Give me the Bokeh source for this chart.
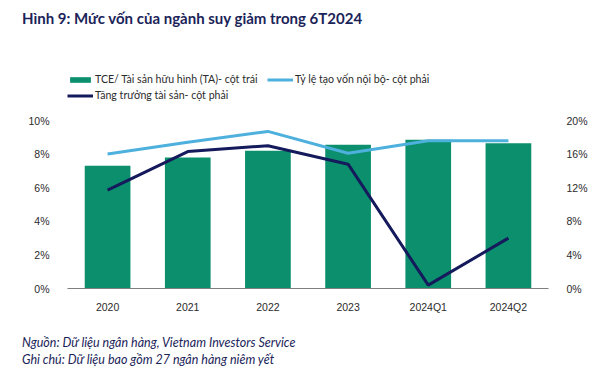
from bokeh.plotting import figure
from bokeh.layouts import column
from bokeh.models import (ColumnDataSource, Range1d, LinearAxis, FixedTicker,
                          PrintfTickFormatter, Legend, LegendItem, Div)
from bokeh.embed import file_html
from bokeh.resources import INLINE

categories = ["2020", "2021", "2022", "2023", "2024Q1", "2024Q2"]
tce_ta = [7.3, 7.8, 8.2, 8.55, 8.85, 8.65]               # left axis, %
internal_capital = [16.0, 17.4, 18.7, 16.1, 17.6, 17.6]  # right axis, %
asset_growth = [11.7, 16.3, 17.0, 14.8, 0.4, 6.0]        # right axis, %
left_ticks = [0, 2, 4, 6, 8, 10]
right_ticks = [0, 4, 8, 12, 16, 20]

FONT = "Lato"
TICKFONT = "Liberation Sans"
GREEN = "#0B8F6C"
LIGHT = "#4DB0DD"
NAVY = "#141A5C"
TEXTC = "#2b2b2b"
TITLEC = "#1B2459"
W = 607

# ---------- title ----------
title = Div(text="Hình 9: Mức vốn của ngành suy giảm trong 6T2024", width=W, height=40, margin=0,
            styles={"font-family": "Lato", "font-weight": "bold", "font-size": "15px",
                    "color": TITLEC, "line-height": "20px", "padding-left": "22px",
                    "padding-top": "8px", "box-sizing": "border-box", "white-space": "nowrap"})

# ---------- main chart (frame extends up to hold the legend) ----------
frame_h = 226      # px of plot frame
axis_h = 168       # px spanned by 0..10 on the left axis
top_left = 10 * frame_h / axis_h
top_right = 20 * frame_h / axis_h

src = ColumnDataSource(dict(cat=categories, tce=tce_ta, icg=internal_capital, ag=asset_growth))

p = figure(x_range=categories, y_range=Range1d(0, top_left), width=W, height=278,
           output_backend="svg", toolbar_location=None,
           min_border_left=67, min_border_right=59, min_border_top=22, min_border_bottom=30)
p.extra_y_ranges = {"right": Range1d(0, top_right)}
p.outline_line_color = None
p.xgrid.grid_line_color = None
p.ygrid.grid_line_color = None

bars = p.vbar(x="cat", top="tce", width=0.57, source=src, fill_color=GREEN, line_color=None)
l1 = p.line(x="cat", y="icg", source=src, y_range_name="right", line_color=LIGHT, line_width=3)
l2 = p.line(x="cat", y="ag", source=src, y_range_name="right", line_color=NAVY, line_width=3)

p.yaxis[0].ticker = FixedTicker(ticks=left_ticks)
p.yaxis[0].formatter = PrintfTickFormatter(format="%d%%")

raxis = LinearAxis(y_range_name="right", ticker=FixedTicker(ticks=right_ticks),
                   formatter=PrintfTickFormatter(format="%d%%"))
p.add_layout(raxis, "right")

for ax in [p.yaxis[0], raxis]:
    ax.axis_line_color = None
    ax.major_tick_line_color = None
    ax.minor_tick_line_color = None
    ax.major_label_standoff = 12
    ax.major_label_text_font = TICKFONT
    ax.major_label_text_font_size = "10.5px"
    ax.major_label_text_color = TEXTC

xa = p.xaxis[0]
xa.axis_line_color = "#7f7f7f"
xa.axis_line_width = 1
xa.major_tick_line_color = None
xa.minor_tick_line_color = None
xa.major_label_standoff = 6
xa.major_label_text_font = TICKFONT
xa.major_label_text_font_size = "10.5px"
xa.major_label_text_color = TEXTC

legend = Legend(items=[
    LegendItem(label="TCE/ Tài sản hữu hình (TA)- cột trái", renderers=[bars]),
    LegendItem(label="Tỷ lệ tạo vốn nội bộ- cột phải", renderers=[l1]),
    LegendItem(label="Tăng trưởng tài sản- cột phải", renderers=[l2]),
], location=(0, 187), orientation="horizontal", ncols=2)
legend.padding = 0
legend.margin = 0
legend.spacing = 4
legend.glyph_width = 26
legend.glyph_height = 7
legend.label_height = 12
legend.label_width = 168
legend.label_standoff = 2
legend.label_text_font = FONT
legend.label_text_font_size = "10.6px"
legend.label_text_color = TEXTC
legend.border_line_color = None
legend.background_fill_alpha = 0
p.add_layout(legend, "center")

# ---------- footer ----------
footer = Div(text="Nguồn: Dữ liệu ngân hàng, Vietnam Investors Service<br>"
                  "Ghi chú: Dữ liệu bao gồm 27 ngân hàng niêm yết",
             width=W, height=65, margin=0,
             styles={"font-family": "Lato", "font-style": "italic", "font-size": "12.5px",
                     "color": TITLEC, "line-height": "17px", "padding-left": "22px",
                     "padding-top": "16px", "box-sizing": "border-box", "white-space": "nowrap"})

layout = column(title, p, footer, spacing=0)
open("out.html", "w").write(file_html(layout, INLINE))
